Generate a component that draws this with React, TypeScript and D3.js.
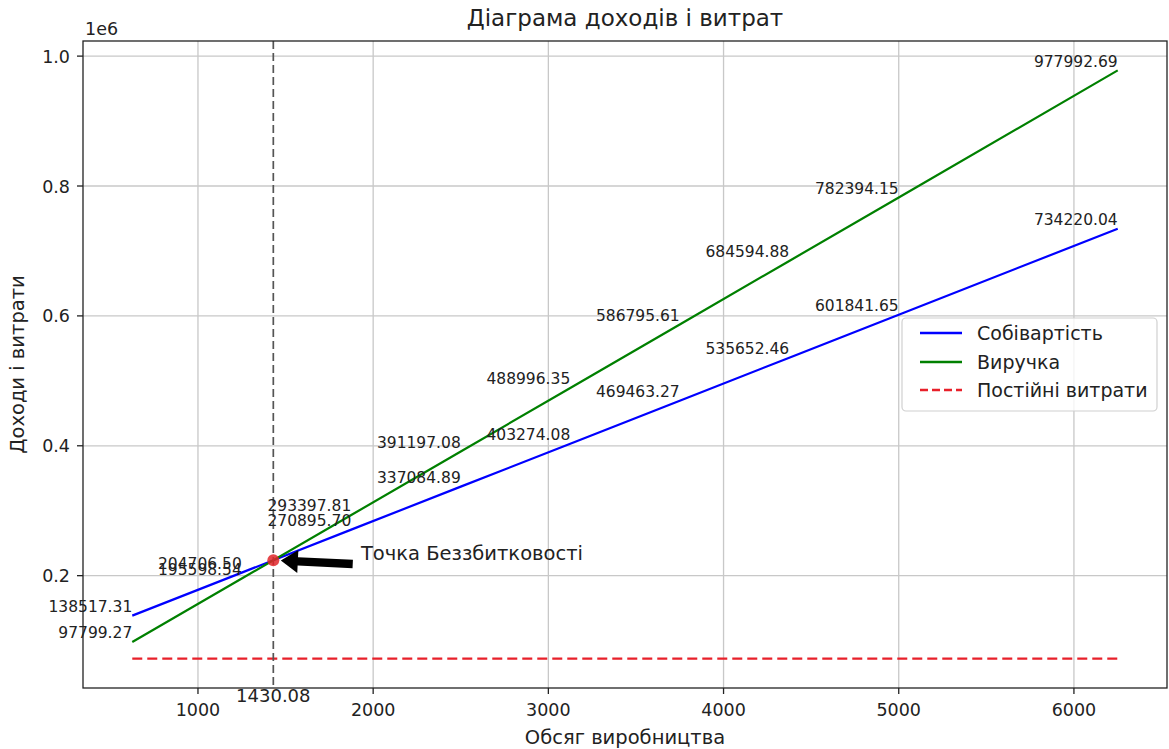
import React from 'react';
import * as d3 from 'd3';

// volumes where the values were annotated (the 5625 point carries no label in the source)
const volumes = [625, 1250, 1875, 2500, 3125, 3750, 4375, 5000, 6250];
const costValues = [138517.31, 204706.5, 270895.7, 337084.89, 403274.08, 469463.27, 535652.46, 601841.65, 734220.04];
const revenueValues = [97799.27, 195598.54, 293397.81, 391197.08, 488996.35, 586795.61, 684594.88, 782394.15, 977992.69];
const fixedCost = 72328.12;
const breakEvenX = 1430.08;
const breakEvenY = 223777.5;

const xTicks = [1000, 2000, 3000, 4000, 5000, 6000];
const yTicks = [200000, 400000, 600000, 800000, 1000000];

const seriesNames = ['Собівартість', 'Виручка', 'Постійні витрати'];
const seriesColors = ['#0000ff', '#008000', '#e8202a'];

const W = 1169;
const H = 749;
const margin = { top: 41, right: 2, bottom: 61, left: 83 };
const FONT = '"DejaVu Sans", Verdana, sans-serif';

export default function App() {
  const innerW = W - margin.left - margin.right;
  const innerH = H - margin.top - margin.bottom;

  const [x0, x1] = d3.extent(volumes) as [number, number];
  const padX = (x1 - x0) * 0.05;
  const x = d3.scaleLinear().domain([x0 - padX, x1 + padX]).range([margin.left, margin.left + innerW]);

  const yMin = Math.min(fixedCost, d3.min(revenueValues)!, d3.min(costValues)!);
  const yMax = Math.max(d3.max(revenueValues)!, d3.max(costValues)!);
  const padY = (yMax - yMin) * 0.05;
  const y = d3.scaleLinear().domain([yMin - padY, yMax + padY]).range([margin.top + innerH, margin.top]);

  const line = d3.line<[number, number]>().x(d => x(d[0])).y(d => y(d[1]));
  const costPath = line(volumes.map((v, i) => [v, costValues[i]]))!;
  const revenuePath = line(volumes.map((v, i) => [v, revenueValues[i]]))!;
  const fixedPath = line([[x0, fixedCost], [x1, fixedCost]])!;

  const top = margin.top;
  const bottom = margin.top + innerH;
  const left = margin.left;
  const right = margin.left + innerW;

  // arrow from annotation text to break-even point
  const textX = x(breakEvenX + 500);
  const textY = y(breakEvenY);
  const tail: [number, number] = [textX - 4, textY + 4];
  const head: [number, number] = [x(breakEvenX), y(breakEvenY)];
  const dx = head[0] - tail[0];
  const dy = head[1] - tail[1];
  const len = Math.hypot(dx, dy);
  const ux = dx / len, uy = dy / len;
  const nx = -uy, ny = ux;
  const shrink = len * 0.05;
  const t0: [number, number] = [tail[0] + ux * shrink, tail[1] + uy * shrink];
  const tip: [number, number] = [head[0] - ux * shrink * 1.8, head[1] - uy * shrink * 1.8];
  const sw = 4.2, hw = 11.5, hl = 17;
  const neck: [number, number] = [tip[0] - ux * hl, tip[1] - uy * hl];
  const arrowPts = [
    [t0[0] + nx * sw, t0[1] + ny * sw],
    [neck[0] + nx * sw, neck[1] + ny * sw],
    [neck[0] + nx * hw, neck[1] + ny * hw],
    tip,
    [neck[0] - nx * hw, neck[1] - ny * hw],
    [neck[0] - nx * sw, neck[1] - ny * sw],
    [t0[0] - nx * sw, t0[1] - ny * sw],
  ].map(p => p.join(',')).join(' ');

  const labelFs = 15.5;
  const fmt = d3.format('.2f');

  const legendX = 902, legendY = 318;
  const legendRows = [333, 362, 390];

  return (
    <svg width={W} height={H} style={{ position: 'absolute', left: 0, top: 0, background: '#fff' }} fontFamily={FONT}>
      <rect x={0} y={0} width={W} height={H} fill="#fff" />

      {/* grid */}
      <g stroke="#c8c8c8" strokeWidth={1.3}>
        {xTicks.map(t => <line key={'gx' + t} x1={x(t)} x2={x(t)} y1={top} y2={bottom} />)}
        {yTicks.map(t => <line key={'gy' + t} x1={left} x2={right} y1={y(t)} y2={y(t)} />)}
      </g>

      {/* series */}
      <path d={costPath} fill="none" stroke={seriesColors[0]} strokeWidth={2.2} />
      <path d={revenuePath} fill="none" stroke={seriesColors[1]} strokeWidth={2.2} />
      <path d={fixedPath} fill="none" stroke={seriesColors[2]} strokeWidth={2.4} strokeDasharray="10,5" />

      {/* break-even vertical */}
      <line x1={x(breakEvenX)} x2={x(breakEvenX)} y1={top} y2={bottom} stroke="#555" strokeWidth={1.7} strokeDasharray="8,4" />

      {/* value labels */}
      <g fontSize={labelFs} fill="#222" textAnchor="end">
        {volumes.map((v, i) => (
          <text key={'c' + v} x={x(v)} y={y(costValues[i]) - 3.6}>{fmt(costValues[i])}</text>
        ))}
        {volumes.map((v, i) => (
          <text key={'r' + v} x={x(v)} y={y(revenueValues[i]) - 3.6}>{fmt(revenueValues[i])}</text>
        ))}
      </g>

      {/* break-even point */}
      <circle cx={x(breakEvenX)} cy={y(breakEvenY)} r={6} fill="#e0262a" fillOpacity={0.85} />
      <polygon points={arrowPts} fill="#000" />
      <text x={textX} y={textY} fontSize={19.5} fill="#222">Точка Беззбитковості</text>
      <text x={x(breakEvenX)} y={y(0) - 4} fontSize={18} fill="#222" textAnchor="middle">{fmt(breakEvenX)}</text>

      {/* frame */}
      <rect x={left} y={top} width={innerW} height={innerH} fill="none" stroke="#222" strokeWidth={1.3} />

      {/* x axis */}
      <g fontSize={17.5} fill="#222" textAnchor="middle">
        {xTicks.map(t => (
          <g key={'xt' + t}>
            <line x1={x(t)} x2={x(t)} y1={bottom} y2={bottom + 6} stroke="#222" strokeWidth={1.3} />
            <text x={x(t)} y={bottom + 28}>{t}</text>
          </g>
        ))}
      </g>
      {/* y axis */}
      <g fontSize={17.5} fill="#222" textAnchor="end">
        {yTicks.map(t => (
          <g key={'yt' + t}>
            <line x1={left - 6} x2={left} y1={y(t)} y2={y(t)} stroke="#222" strokeWidth={1.3} />
            <text x={left - 13} y={y(t) + 6.5}>{d3.format('.1f')(t / 1e6)}</text>
          </g>
        ))}
      </g>
      <text x={left + 2} y={35} fontSize={17.5} fill="#222">1e6</text>

      {/* titles */}
      <text x={(left + right) / 2} y={26} fontSize={23} fill="#222" textAnchor="middle">Діаграма доходів і витрат</text>
      <text x={(left + right) / 2} y={744} fontSize={19.5} fill="#222" textAnchor="middle">Обсяг виробництва</text>
      <text transform={`translate(24,${(top + bottom) / 2}) rotate(-90)`} fontSize={19.5} fill="#222" textAnchor="middle">Доходи і витрати</text>

      {/* legend */}
      <rect x={legendX} y={legendY} width={255} height={93} rx={4} fill="#fff" fillOpacity={0.8} stroke="#d0d0d0" strokeWidth={1.2} />
      {seriesNames.map((name, i) => (
        <g key={name}>
          <line x1={920} x2={962} y1={legendRows[i]} y2={legendRows[i]} stroke={seriesColors[i]} strokeWidth={2.4} strokeDasharray={i === 2 ? '8,4' : undefined} />
          <text x={977} y={legendRows[i] + 7} fontSize={19} fill="#222">{name}</text>
        </g>
      ))}
    </svg>
  );
}
